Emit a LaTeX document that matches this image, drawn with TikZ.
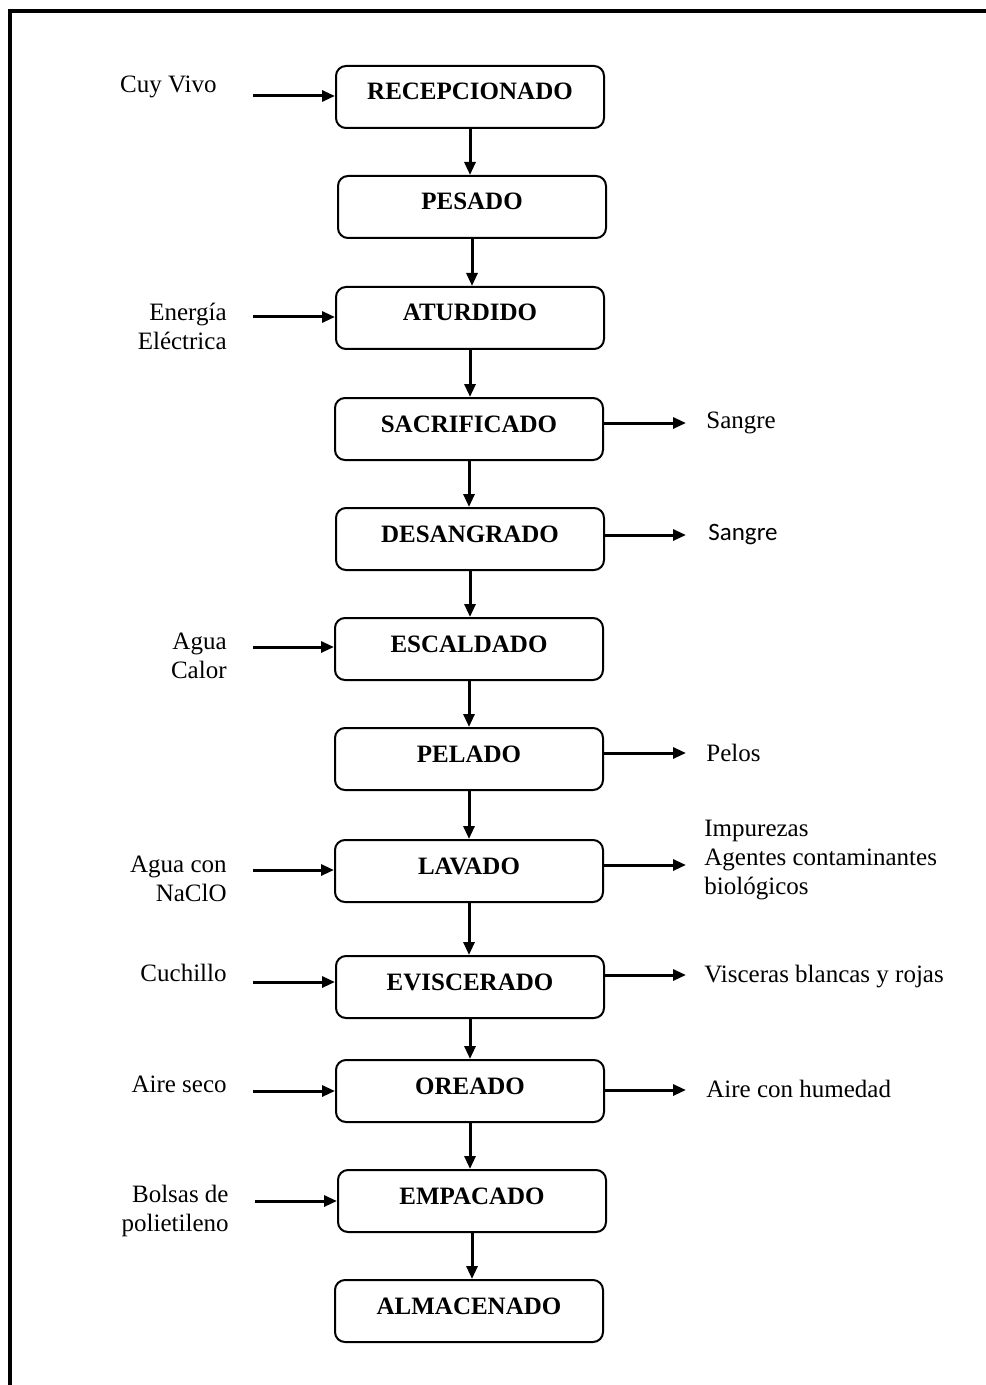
\documentclass[tikz,border=0pt]{standalone}
\usepackage{fontspec}
\setmainfont{Liberation Serif}
\newfontfamily\calibri{Carlito}
\usetikzlibrary{arrows.meta}
\tikzset{
  stepbox/.style={draw, line width=1pt, rounded corners=5pt, minimum width=134pt, minimum height=31pt,
    inner sep=0pt, text height=8pt, text depth=5pt,
    font=\bfseries\fontsize{12.5}{15}\selectfont},
  lbl/.style={inner sep=0pt, font=\fontsize{12.5}{14.5}\selectfont},
  flow/.style={line width=1.5pt, -{Triangle[length=6.5pt,width=5.5pt]}},
  frame/.style={line width=2pt}
}
\begin{document}
\begin{tikzpicture}[x=0.5pt,y=-0.5pt]
\useasboundingbox (0,0) rectangle (985,1385);
\draw[frame] (10,1390) -- (10,11) -- (990,11);

% process boxes
\node[stepbox] (b1)  at (470,97)   {RECEPCIONADO};
\node[stepbox] (b2)  at (472,207)  {PESADO};
\node[stepbox] (b3)  at (470,318)  {ATURDIDO};
\node[stepbox] (b4)  at (469,429)  {SACRIFICADO};
\node[stepbox] (b5)  at (470,539)  {DESANGRADO};
\node[stepbox] (b6)  at (469,649)  {ESCALDADO};
\node[stepbox] (b7)  at (469,759)  {PELADO};
\node[stepbox] (b8)  at (469,871)  {LAVADO};
\node[stepbox] (b9)  at (470,987)  {EVISCERADO};
\node[stepbox] (b10) at (470,1091) {OREADO};
\node[stepbox] (b11) at (472,1201) {EMPACADO};
\node[stepbox] (b12) at (469,1311) {ALMACENADO};

% vertical flow
\foreach \a/\b in {b1/b2,b2/b3,b3/b4,b4/b5,b5/b6,b6/b7,b7/b8,b8/b9,b9/b10,b10/b11,b11/b12}
  \draw[flow] (\a.south) -- (\a.south |- \b.north);

% inputs (left)
\node[lbl, anchor=east] (i1) at (217,87) {Cuy Vivo};
\node[lbl, anchor=east, align=right] (i3) at (227,326) {Energía\\Eléctrica};
\node[lbl, anchor=east, align=right] (i6) at (227,656) {Agua\\Calor};
\node[lbl, anchor=east, align=right] (i8) at (227,879) {Agua con\\NaClO};
\node[lbl, anchor=east] (i9) at (227,973) {Cuchillo};
\node[lbl, anchor=east] (i10) at (227,1084) {Aire seco};
\node[lbl, anchor=east, align=right] (i11) at (229,1211) {Bolsas de\\polietileno};

\coordinate (c1) at (253,96);
\coordinate (c3) at (253,317);
\coordinate (c6) at (253,647);
\coordinate (c8) at (253,870);
\coordinate (c9) at (253,982);
\coordinate (c10) at (253,1091);
\coordinate (c11) at (255,1201);
\foreach \c/\b in {c1/b1,c3/b3,c6/b6,c8/b8,c9/b9,c10/b10,c11/b11}
  \draw[flow] (\c) -- (\c -| \b.west);

% outputs (right)
\coordinate (o4) at (686,423);
\coordinate (o5) at (686,535);
\coordinate (o7) at (686,753);
\coordinate (o8) at (686,865);
\coordinate (o9) at (686,975);
\coordinate (o10) at (686,1090);
\foreach \c/\b in {o4/b4,o5/b5,o7/b7,o8/b8,o9/b9,o10/b10}
  \draw[flow] (\c -| \b.east) -- (\c);

\node[lbl, anchor=west] (r4) at (706,423) {Sangre};
\node[lbl, anchor=west, font=\calibri\fontsize{12.5}{14.5}\selectfont] (r5) at (708,535) {Sangre};
\node[lbl, anchor=west] (r7) at (706,753) {Pelos};
\node[lbl, anchor=west, align=left] (r8) at (704,860) {Impurezas\\Agentes contaminantes\\biológicos};
\node[lbl, anchor=west] (r9) at (704,977) {Visceras blancas y rojas};
\node[lbl, anchor=west] (r10) at (706,1089) {Aire con humedad};
\end{tikzpicture}
\end{document}
